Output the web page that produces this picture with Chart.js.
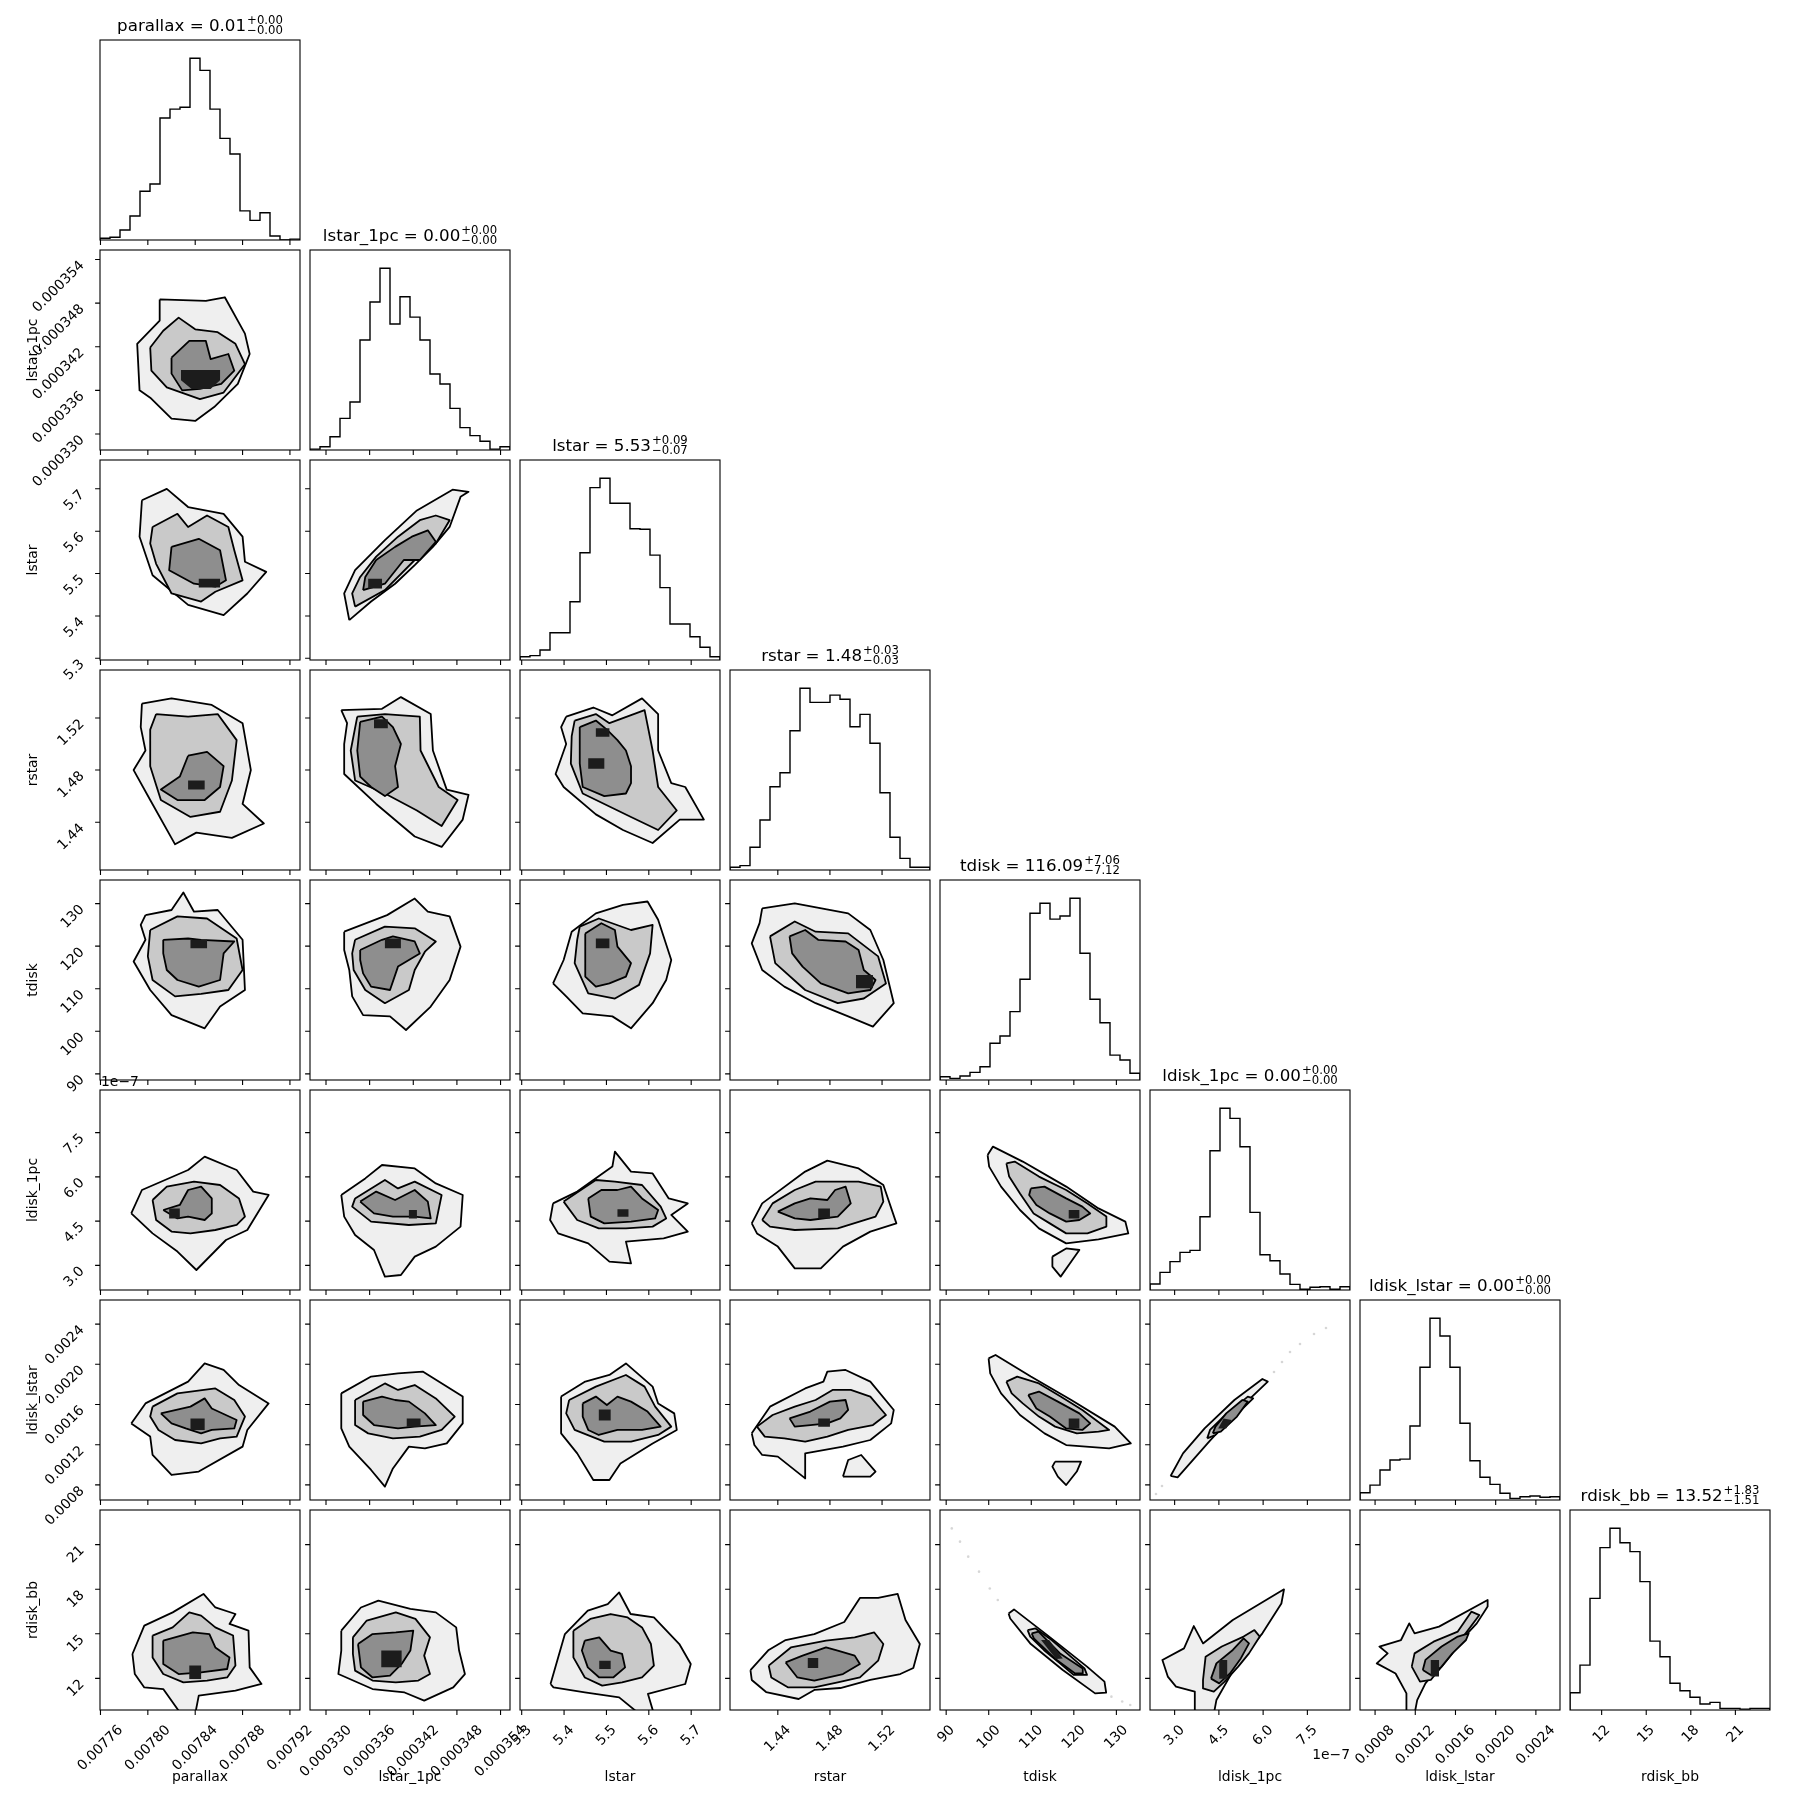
<!DOCTYPE html>
<html>
<head>
<meta charset="utf-8">
<script src="https://cdn.jsdelivr.net/npm/chart.js@4.4.1/dist/chart.umd.min.js"></script>
<style>
  body { margin: 0; background: #fff; }
  #fig { position: relative; width: 1809px; height: 1809px; overflow: hidden; }
  #fig canvas { position: absolute; }
</style>
</head>
<body>
<div id="fig"></div>
<script>
// ---- parameters and axes ----
const params = ["parallax", "lstar_1pc", "lstar", "rstar", "tdisk", "ldisk_1pc", "ldisk_lstar", "rdisk_bb"];
const axisMin = [0.0077596, 0.0003278, 5.296, 1.4033, 88.55, 2.165e-7, 0.00065, 9.87];
const axisMax = [0.0079285, 0.0003553, 5.768, 1.5568, 135.55, 8.945e-7, 0.00264, 23.33];

const ticks_parallax = [0.00776, 0.00780, 0.00784, 0.00788, 0.00792];
const ticks_lstar_1pc = [0.000330, 0.000336, 0.000342, 0.000348, 0.000354];
const ticks_lstar = [5.3, 5.4, 5.5, 5.6, 5.7];
const ticks_rstar = [1.44, 1.48, 1.52];
const ticks_tdisk = [90, 100, 110, 120, 130];
const ticks_ldisk_1pc = [3.0e-7, 4.5e-7, 6.0e-7, 7.5e-7];
const ticks_ldisk_lstar = [0.0008, 0.0012, 0.0016, 0.0020, 0.0024];
const ticks_rdisk_bb = [12, 15, 18, 21];

const tickText_parallax = ["0.00776", "0.00780", "0.00784", "0.00788", "0.00792"];
const tickText_lstar_1pc = ["0.000330", "0.000336", "0.000342", "0.000348", "0.000354"];
const tickText_lstar = ["5.3", "5.4", "5.5", "5.6", "5.7"];
const tickText_rstar = ["1.44", "1.48", "1.52"];
const tickText_tdisk = ["90", "100", "110", "120", "130"];
const tickText_ldisk_1pc = ["3.0", "4.5", "6.0", "7.5"];
const tickText_ldisk_lstar = ["0.0008", "0.0012", "0.0016", "0.0020", "0.0024"];
const tickText_rdisk_bb = ["12", "15", "18", "21"];
const offsetText = ["", "", "", "", "", "1e\u22127", "", ""];

const titleMedian = ["0.01", "0.00", "5.53", "1.48", "116.09", "0.00", "0.00", "13.52"];
const titlePlus = ["0.00", "0.00", "0.09", "0.03", "7.06", "0.00", "0.00", "1.83"];
const titleMinus = ["0.00", "0.00", "0.07", "0.03", "7.12", "0.00", "0.00", "1.51"];

// ---- 1D histograms (20 bins over the axis range, relative counts) ----
const hist_parallax = [1, 1.5, 5.5, 13.2, 26.8, 30.8, 67.1, 72, 73, 100, 93.3, 72, 55.9, 47.3, 16, 10.8, 15, 2.2, 0, 0.5];
const hist_lstar_1pc = [0.5, 1.8, 7.3, 17.4, 26.4, 60.5, 81.4, 100, 69.3, 84.3, 73.1, 60.5, 41.8, 36.3, 22.9, 12.3, 7.9, 4.8, 0.5, 1.8];
const hist_lstar = [1.8, 2.4, 5.5, 15, 15, 32, 59, 94.8, 100, 86.2, 86.2, 72.2, 71.9, 57.7, 39.8, 19.8, 19.8, 12.8, 7, 1.8];
const hist_rstar = [1.5, 2.4, 12.5, 27.5, 45.8, 53.5, 76.6, 100, 92.2, 92.2, 96.2, 93.9, 78.8, 85.6, 69.7, 42.5, 18, 6.4, 1.5, 1.5];
const hist_tdisk = [1.8, 0.9, 2.2, 4.2, 7.3, 20.2, 24.2, 37.6, 55.4, 91.7, 97.2, 88.5, 90.2, 100, 69.7, 44.4, 31.5, 13.7, 11, 3.7];
const hist_ldisk_1pc = [3.3, 9.7, 15.6, 20.7, 21.8, 40.3, 76.6, 100, 94.4, 78.8, 42.7, 19.4, 16.1, 8.8, 3.1, 0.4, 1.5, 1.8, 0.4, 1.8];
const hist_ldisk_lstar = [4, 8.2, 16.5, 22, 22.5, 40.7, 73, 100, 90.2, 73, 42.2, 21.6, 12.5, 8.6, 3.7, 0.9, 1.8, 2.2, 1.5, 1.8];
const hist_rdisk_bb = [9.5, 24.7, 61.4, 89.3, 100, 92, 87.1, 70.6, 37.9, 29.3, 14.7, 10.6, 7, 3.3, 4.2, 0.9, 0.9, 0.5, 0.9, 0.9];

// ---- 2D contours: [level, ring] ; level 0 = outer ... 3 = densest core ----
const lstar_1pc_vs_parallax = [
  [0, [[0.007810,0.0003485],[0.007849,0.0003483],[0.007865,0.0003488],[0.007882,0.0003438],[0.007886,0.0003410],[0.007876,0.0003369],[0.007856,0.0003337],[0.007840,0.0003318],[0.007820,0.0003321],[0.007802,0.0003350],[0.007793,0.0003360],[0.007791,0.0003424],[0.007810,0.0003456]]],
  [1, [[0.007802,0.0003419],[0.007813,0.0003442],[0.007826,0.0003460],[0.007840,0.0003444],[0.007859,0.0003440],[0.007874,0.0003424],[0.007882,0.0003396],[0.007864,0.0003357],[0.007844,0.0003348],[0.007816,0.0003364],[0.007803,0.0003387]]],
  [2, [[0.007820,0.0003405],[0.007835,0.0003428],[0.007849,0.0003428],[0.007853,0.0003403],[0.007868,0.0003410],[0.007873,0.0003387],[0.007862,0.0003369],[0.007844,0.0003362],[0.007829,0.0003360],[0.007820,0.0003383]]],
  [3, [[0.007828,0.0003388],[0.007861,0.0003388],[0.007861,0.0003374],[0.007853,0.0003362],[0.007837,0.0003362],[0.007828,0.0003374]]]
];
const lstar_vs_parallax = [
  [0, [[0.007795,5.673],[0.007816,5.700],[0.007834,5.657],[0.007864,5.641],[0.007880,5.587],[0.007882,5.528],[0.007900,5.504],[0.007884,5.453],[0.007864,5.402],[0.007834,5.426],[0.007804,5.496],[0.007793,5.587]]],
  [1, [[0.007804,5.610],[0.007825,5.641],[0.007834,5.610],[0.007850,5.637],[0.007868,5.610],[0.007873,5.555],[0.007880,5.484],[0.007857,5.457],[0.007845,5.434],[0.007820,5.453],[0.007807,5.523],[0.007802,5.571]]],
  [2, [[0.007820,5.563],[0.007843,5.582],[0.007861,5.555],[0.007866,5.484],[0.007857,5.469],[0.007839,5.476],[0.007818,5.508]]],
  [3, [[0.007843,5.467],[0.007861,5.467],[0.007861,5.488],[0.007843,5.488]]]
];
const lstar_vs_lstar_1pc = [
  [0, [[0.0003332,5.390],[0.0003362,5.434],[0.0003395,5.476],[0.0003422,5.520],[0.0003447,5.563],[0.0003470,5.610],[0.0003485,5.681],[0.0003496,5.693],[0.0003474,5.698],[0.0003425,5.649],[0.0003381,5.579],[0.0003340,5.508],[0.0003325,5.453]]],
  [1, [[0.0003340,5.422],[0.0003381,5.461],[0.0003422,5.532],[0.0003451,5.571],[0.0003470,5.626],[0.0003451,5.637],[0.0003429,5.626],[0.0003399,5.587],[0.0003369,5.540],[0.0003347,5.492],[0.0003336,5.453]]],
  [2, [[0.0003351,5.461],[0.0003381,5.476],[0.0003407,5.532],[0.0003429,5.532],[0.0003451,5.575],[0.0003440,5.602],[0.0003418,5.587],[0.0003395,5.563],[0.0003369,5.532],[0.0003354,5.492]]],
  [3, [[0.0003358,5.465],[0.0003377,5.465],[0.0003377,5.488],[0.0003358,5.488]]]
];
const rstar_vs_parallax = [
  [0, [[0.007795,1.531],[0.007820,1.535],[0.007854,1.530],[0.007880,1.516],[0.007887,1.480],[0.007880,1.454],[0.007898,1.439],[0.007871,1.428],[0.007841,1.432],[0.007823,1.423],[0.007802,1.457],[0.007788,1.480],[0.007798,1.495],[0.007794,1.513]]],
  [1, [[0.007807,1.523],[0.007834,1.521],[0.007859,1.523],[0.007875,1.503],[0.007871,1.472],[0.007861,1.448],[0.007836,1.444],[0.007811,1.457],[0.007802,1.483],[0.007802,1.511]]],
  [2, [[0.007834,1.491],[0.007850,1.494],[0.007864,1.483],[0.007861,1.467],[0.007848,1.457],[0.007825,1.457],[0.007811,1.465],[0.007827,1.475]]],
  [3, [[0.007834,1.472],[0.007848,1.472],[0.007848,1.465],[0.007834,1.465]]]
];
const rstar_vs_lstar_1pc = [
  [0, [[0.0003321,1.526],[0.0003377,1.527],[0.0003403,1.536],[0.0003444,1.523],[0.0003447,1.495],[0.0003466,1.465],[0.0003496,1.461],[0.0003488,1.442],[0.0003459,1.421],[0.0003422,1.429],[0.0003369,1.454],[0.0003325,1.477],[0.0003325,1.500],[0.0003329,1.516]]],
  [1, [[0.0003343,1.521],[0.0003381,1.523],[0.0003429,1.521],[0.0003430,1.495],[0.0003455,1.467],[0.0003481,1.457],[0.0003459,1.437],[0.0003425,1.449],[0.0003381,1.462],[0.0003340,1.472],[0.0003334,1.495]]],
  [2, [[0.0003347,1.517],[0.0003377,1.521],[0.0003392,1.513],[0.0003403,1.500],[0.0003395,1.483],[0.0003399,1.467],[0.0003381,1.460],[0.0003362,1.467],[0.0003347,1.475],[0.0003343,1.495]]],
  [3, [[0.0003366,1.519],[0.0003385,1.519],[0.0003385,1.512],[0.0003366,1.512]]]
];
const rstar_vs_lstar = [
  [0, [[5.405,1.521],[5.469,1.528],[5.514,1.522],[5.584,1.535],[5.622,1.523],[5.622,1.495],[5.653,1.470],[5.686,1.467],[5.730,1.442],[5.673,1.442],[5.609,1.424],[5.539,1.434],[5.475,1.446],[5.399,1.467],[5.380,1.477],[5.405,1.500],[5.393,1.513]]],
  [1, [[5.425,1.518],[5.475,1.523],[5.507,1.516],[5.590,1.526],[5.609,1.495],[5.622,1.467],[5.666,1.449],[5.622,1.434],[5.558,1.444],[5.444,1.462],[5.416,1.485],[5.418,1.506]]],
  [2, [[5.437,1.513],[5.475,1.518],[5.501,1.511],[5.526,1.503],[5.546,1.495],[5.558,1.483],[5.558,1.470],[5.546,1.462],[5.495,1.460],[5.444,1.467],[5.437,1.485],[5.437,1.503]]],
  [3, [[5.475,1.512],[5.507,1.512],[5.507,1.5055],[5.475,1.5055]]],
  [3, [[5.457,1.489],[5.495,1.489],[5.495,1.481],[5.457,1.481]]]
];
const tdisk_vs_parallax = [
  [0, [[0.007798,127.3],[0.007820,128.5],[0.007830,132.6],[0.007839,128.1],[0.007859,128.5],[0.007880,121.5],[0.007882,109.7],[0.007861,105.8],[0.007848,100.7],[0.007820,103.8],[0.007802,109.7],[0.007788,116.4],[0.007798,121.5],[0.007794,125.0]]],
  [1, [[0.007802,123.8],[0.007825,127.0],[0.007850,126.5],[0.007875,121.8],[0.007880,114.4],[0.007868,109.7],[0.007845,108.8],[0.007823,108.2],[0.007804,112.05],[0.007800,117.6]]],
  [2, [[0.007813,121.5],[0.007834,121.8],[0.007845,121.5],[0.007873,121.1],[0.007864,118.3],[0.007861,112.05],[0.007843,110.5],[0.007825,112.05],[0.007816,114.4],[0.007813,118.3]]],
  [3, [[0.007836,121.5],[0.007850,121.5],[0.007850,119.5],[0.007836,119.5]]]
];
const tdisk_vs_lstar_1pc = [
  [0, [[0.0003325,123.4],[0.0003384,127.3],[0.0003422,131.2],[0.0003440,128.1],[0.0003470,127.0],[0.0003485,119.9],[0.0003470,112.05],[0.0003444,105.8],[0.0003410,100.3],[0.0003388,103.5],[0.0003351,103.8],[0.0003336,108.2],[0.0003332,114.4],[0.0003325,119.1]]],
  [1, [[0.0003340,121.5],[0.0003381,124.6],[0.0003422,124.2],[0.0003451,121.1],[0.0003436,118.7],[0.0003422,114.4],[0.0003414,109.7],[0.0003381,106.6],[0.0003354,109.7],[0.0003338,114.4],[0.0003336,118.3]]],
  [2, [[0.0003347,119.1],[0.0003377,121.5],[0.0003392,122.3],[0.0003422,121.1],[0.0003429,118.3],[0.0003414,116.75],[0.0003399,115.2],[0.0003388,109.7],[0.0003362,110.5],[0.0003351,113.6],[0.0003347,116.75]]],
  [3, [[0.0003381,121.8],[0.0003403,121.8],[0.0003403,119.5],[0.0003381,119.5]]]
];
const tdisk_vs_lstar = [
  [0, [[5.374,111.25],[5.399,116.75],[5.418,123.4],[5.475,127.7],[5.539,129.7],[5.597,130.5],[5.622,126.2],[5.653,116.75],[5.641,112.05],[5.609,106.6],[5.558,100.7],[5.514,103.5],[5.444,104.2],[5.405,108.2]]],
  [1, [[5.437,124.6],[5.482,126.5],[5.558,123.8],[5.609,125.0],[5.603,118.3],[5.577,110.9],[5.520,107.7],[5.457,108.9],[5.425,116.0],[5.431,121.5]]],
  [2, [[5.450,123.0],[5.488,125.4],[5.520,123.8],[5.526,119.9],[5.558,116.0],[5.546,112.85],[5.507,111.25],[5.475,110.5],[5.450,112.85],[5.450,117.6]]],
  [3, [[5.475,121.8],[5.507,121.8],[5.507,119.5],[5.475,119.5]]]
];
const tdisk_vs_rstar = [
  [0, [[1.428,128.9],[1.453,130.05],[1.494,127.7],[1.511,123.8],[1.521,116.75],[1.529,106.6],[1.513,101.1],[1.494,103.5],[1.469,106.6],[1.445,110.5],[1.428,114.4],[1.420,120.65],[1.426,125.4]]],
  [1, [[1.434,122.3],[1.453,125.8],[1.469,123.4],[1.494,123.0],[1.517,117.6],[1.523,111.25],[1.506,107.7],[1.486,106.6],[1.461,109.7],[1.438,116.0]]],
  [2, [[1.449,122.3],[1.461,123.8],[1.471,121.5],[1.492,121.1],[1.502,119.1],[1.506,114.4],[1.515,112.05],[1.511,109.7],[1.494,108.9],[1.473,111.25],[1.459,115.2],[1.451,118.3]]],
  [3, [[1.500,113.2],[1.513,113.2],[1.513,110.1],[1.500,110.1]]]
];
const ldisk_1pc_vs_parallax = [
  [0, [[0.007786,4.762e-7],[0.007795,5.555e-7],[0.007834,6.233e-7],[0.007848,6.687e-7],[0.007875,6.233e-7],[0.007889,5.501e-7],[0.007902,5.386e-7],[0.007884,4.199e-7],[0.007866,3.860e-7],[0.007841,2.843e-7],[0.007825,3.467e-7],[0.007804,4.084e-7]]],
  [1, [[0.007804,5.216e-7],[0.007816,5.670e-7],[0.007839,5.840e-7],[0.007861,5.725e-7],[0.007877,5.270e-7],[0.007882,4.653e-7],[0.007875,4.369e-7],[0.007857,4.199e-7],[0.007836,4.084e-7],[0.007820,4.145e-7],[0.007807,4.538e-7]]],
  [2, [[0.007813,4.877e-7],[0.007827,5.047e-7],[0.007834,5.555e-7],[0.007845,5.670e-7],[0.007854,5.270e-7],[0.007854,4.762e-7],[0.007848,4.538e-7],[0.007834,4.653e-7],[0.007825,4.592e-7]]],
  [3, [[0.007818,4.931e-7],[0.007827,4.931e-7],[0.007827,4.592e-7],[0.007818,4.592e-7]]]
];
const ldisk_1pc_vs_lstar_1pc = [
  [0, [[0.0003321,5.386e-7],[0.0003354,5.948e-7],[0.0003377,6.403e-7],[0.0003422,6.287e-7],[0.0003451,5.779e-7],[0.0003488,5.386e-7],[0.0003485,4.314e-7],[0.0003451,3.636e-7],[0.0003422,3.297e-7],[0.0003403,2.674e-7],[0.0003381,2.619e-7],[0.0003366,3.521e-7],[0.0003340,4.030e-7],[0.0003325,4.653e-7]]],
  [1, [[0.0003340,5.270e-7],[0.0003381,5.894e-7],[0.0003399,5.609e-7],[0.0003422,5.840e-7],[0.0003459,5.386e-7],[0.0003451,4.423e-7],[0.0003414,4.369e-7],[0.0003362,4.484e-7],[0.0003336,4.992e-7]]],
  [2, [[0.0003347,5.162e-7],[0.0003369,5.501e-7],[0.0003395,5.216e-7],[0.0003422,5.555e-7],[0.0003440,5.162e-7],[0.0003444,4.592e-7],[0.0003422,4.653e-7],[0.0003392,4.653e-7],[0.0003366,4.762e-7]]],
  [3, [[0.0003414,4.877e-7],[0.0003425,4.877e-7],[0.0003425,4.592e-7],[0.0003414,4.592e-7]]]
];
const ldisk_1pc_vs_lstar = [
  [0, [[5.374,5.101e-7],[5.431,5.501e-7],[5.514,6.348e-7],[5.520,6.857e-7],[5.558,6.179e-7],[5.609,6.118e-7],[5.647,5.270e-7],[5.692,5.101e-7],[5.653,4.708e-7],[5.692,4.145e-7],[5.635,3.914e-7],[5.546,3.806e-7],[5.558,3.067e-7],[5.507,3.128e-7],[5.457,3.745e-7],[5.386,4.084e-7],[5.367,4.538e-7]]],
  [1, [[5.399,5.162e-7],[5.475,5.894e-7],[5.520,5.840e-7],[5.584,5.725e-7],[5.628,4.992e-7],[5.641,4.592e-7],[5.609,4.314e-7],[5.546,4.253e-7],[5.482,4.253e-7],[5.431,4.538e-7]]],
  [2, [[5.457,5.270e-7],[5.488,5.555e-7],[5.526,5.555e-7],[5.558,5.670e-7],[5.584,5.270e-7],[5.622,4.877e-7],[5.615,4.592e-7],[5.558,4.484e-7],[5.495,4.423e-7],[5.463,4.653e-7]]],
  [3, [[5.526,4.900e-7],[5.552,4.900e-7],[5.552,4.650e-7],[5.526,4.650e-7]]]
];
const ldisk_1pc_vs_rstar = [
  [0, [[1.420,4.423e-7],[1.428,5.101e-7],[1.461,6.179e-7],[1.478,6.552e-7],[1.502,6.287e-7],[1.521,5.725e-7],[1.531,4.423e-7],[1.511,4.145e-7],[1.490,3.636e-7],[1.473,2.897e-7],[1.453,2.897e-7],[1.440,3.636e-7],[1.424,4.084e-7]]],
  [1, [[1.428,4.538e-7],[1.436,5.101e-7],[1.453,5.555e-7],[1.469,5.840e-7],[1.502,5.840e-7],[1.519,5.670e-7],[1.521,5.162e-7],[1.515,4.653e-7],[1.486,4.253e-7],[1.453,4.199e-7],[1.434,4.314e-7]]],
  [2, [[1.440,4.823e-7],[1.453,5.101e-7],[1.465,5.270e-7],[1.478,5.216e-7],[1.484,5.555e-7],[1.492,5.670e-7],[1.496,5.101e-7],[1.486,4.653e-7],[1.465,4.538e-7],[1.453,4.592e-7]]],
  [3, [[1.471,4.931e-7],[1.480,4.931e-7],[1.480,4.592e-7],[1.471,4.592e-7]]]
];
const ldisk_1pc_vs_tdisk = [
  [0, [[99.74,6.741e-7],[101.0,7.026e-7],[108.0,6.518e-7],[118.2,5.670e-7],[125.8,4.931e-7],[132.1,4.484e-7],[132.8,4.084e-7],[125.8,3.880e-7],[118.2,3.745e-7],[111.8,4.253e-7],[107.35,4.877e-7],[102.9,5.670e-7],[100.1,6.348e-7]]],
  [0, [[114.96,3.297e-7],[118.2,3.575e-7],[121.3,3.521e-7],[119.4,3.128e-7],[116.9,2.619e-7],[114.96,2.958e-7]]],
  [1, [[104.15,6.457e-7],[106.1,6.518e-7],[111.8,6.009e-7],[118.2,5.555e-7],[123.2,5.101e-7],[127.65,4.653e-7],[127.65,4.314e-7],[123.2,4.084e-7],[118.2,4.084e-7],[114.35,4.423e-7],[110.55,4.762e-7],[107.35,5.440e-7],[104.8,6.009e-7]]],
  [2, [[109.9,5.609e-7],[113.1,5.670e-7],[118.2,5.270e-7],[122.0,4.992e-7],[123.85,4.762e-7],[121.3,4.538e-7],[118.2,4.484e-7],[114.35,4.762e-7],[111.2,5.047e-7],[109.5,5.386e-7]]],
  [3, [[118.8,4.877e-7],[121.3,4.877e-7],[121.3,4.592e-7],[118.8,4.592e-7]]]
];
const ldisk_lstar_vs_parallax = [
  [0, [[0.007786,0.001412],[0.007798,0.001611],[0.007834,0.001828],[0.007848,0.002009],[0.007864,0.001944],[0.007877,0.001794],[0.007902,0.001611],[0.007884,0.001347],[0.007880,0.001181],[0.007843,0.000933],[0.007820,0.000899],[0.007804,0.001098],[0.007802,0.001281]]],
  [1, [[0.007804,0.001579],[0.007825,0.001711],[0.007857,0.001760],[0.007873,0.001645],[0.007882,0.001480],[0.007875,0.001281],[0.007861,0.001263],[0.007845,0.001213],[0.007823,0.001247],[0.007809,0.001347],[0.007802,0.001480]]],
  [2, [[0.007811,0.001512],[0.007836,0.001579],[0.007848,0.001661],[0.007854,0.001561],[0.007875,0.001446],[0.007873,0.001362],[0.007854,0.001347],[0.007845,0.001313],[0.007832,0.001362],[0.007820,0.001412]]],
  [3, [[0.007836,0.001462],[0.007848,0.001462],[0.007848,0.001347],[0.007836,0.001347]]]
];
const ldisk_lstar_vs_lstar_1pc = [
  [0, [[0.0003321,0.001711],[0.0003362,0.001878],[0.0003399,0.001910],[0.0003433,0.001928],[0.0003488,0.001679],[0.0003488,0.001412],[0.0003466,0.001213],[0.0003436,0.001163],[0.0003414,0.001181],[0.0003392,0.000964],[0.0003381,0.000783],[0.0003362,0.000949],[0.0003332,0.001181],[0.0003321,0.001362]]],
  [1, [[0.0003340,0.001645],[0.0003381,0.001810],[0.0003399,0.001745],[0.0003422,0.001794],[0.0003451,0.001661],[0.0003477,0.001480],[0.0003459,0.001347],[0.0003429,0.001281],[0.0003392,0.001263],[0.0003358,0.001313],[0.0003340,0.001396]]],
  [2, [[0.0003351,0.001629],[0.0003377,0.001679],[0.0003395,0.001645],[0.0003414,0.001629],[0.0003436,0.001512],[0.0003451,0.001396],[0.0003422,0.001380],[0.0003399,0.001362],[0.0003366,0.001396],[0.0003351,0.001496]]],
  [3, [[0.0003411,0.001462],[0.0003430,0.001462],[0.0003430,0.001380],[0.0003411,0.001380]]]
];
const ldisk_lstar_vs_lstar = [
  [0, [[5.393,0.001679],[5.450,0.001828],[5.507,0.001894],[5.546,0.002009],[5.609,0.001778],[5.622,0.001611],[5.660,0.001512],[5.666,0.001347],[5.609,0.001213],[5.533,0.001014],[5.507,0.000849],[5.469,0.000849],[5.431,0.001114],[5.393,0.001313]]],
  [1, [[5.412,0.001645],[5.475,0.001778],[5.546,0.001894],[5.590,0.001778],[5.615,0.001579],[5.653,0.001380],[5.622,0.001297],[5.558,0.001231],[5.495,0.001231],[5.425,0.001347],[5.405,0.001512]]],
  [2, [[5.444,0.001611],[5.475,0.001679],[5.501,0.001595],[5.526,0.001679],[5.558,0.001629],[5.597,0.001530],[5.628,0.001380],[5.584,0.001347],[5.526,0.001347],[5.482,0.001297],[5.457,0.001347],[5.444,0.001480]]],
  [3, [[5.482,0.001551],[5.510,0.001551],[5.510,0.001440],[5.482,0.001440]]]
];
const ldisk_lstar_vs_rstar = [
  [0, [[1.420,0.001313],[1.434,0.001579],[1.461,0.001760],[1.475,0.001828],[1.478,0.001928],[1.492,0.001944],[1.511,0.001828],[1.529,0.001546],[1.527,0.001412],[1.511,0.001247],[1.490,0.001181],[1.461,0.001114],[1.461,0.000865],[1.440,0.001082],[1.428,0.001098],[1.422,0.001197]]],
  [0, [[1.490,0.000883],[1.494,0.001048],[1.504,0.001098],[1.515,0.000933],[1.511,0.000883]]],
  [1, [[1.424,0.001380],[1.436,0.001496],[1.453,0.001579],[1.469,0.001645],[1.482,0.001745],[1.496,0.001745],[1.511,0.001679],[1.523,0.001496],[1.513,0.001396],[1.494,0.001347],[1.478,0.001281],[1.461,0.001231],[1.445,0.001263],[1.430,0.001281]]],
  [2, [[1.449,0.001462],[1.465,0.001530],[1.480,0.001629],[1.492,0.001645],[1.494,0.001546],[1.488,0.001462],[1.478,0.001412],[1.465,0.001396],[1.453,0.001380]]],
  [3, [[1.471,0.001462],[1.480,0.001462],[1.480,0.001380],[1.471,0.001380]]]
];
const ldisk_lstar_vs_tdisk = [
  [0, [[99.97,0.002059],[101.6,0.002093],[109.9,0.001878],[119.4,0.001645],[129.6,0.001380],[133.4,0.001213],[128.3,0.001163],[118.2,0.001197],[113.1,0.001313],[107.35,0.001496],[102.9,0.001711],[100.35,0.001910]]],
  [0, [[115.6,0.001032],[121.7,0.001032],[120.7,0.000933],[118.2,0.000799],[116.25,0.000883],[114.96,0.000982]]],
  [1, [[104.15,0.001828],[106.7,0.001878],[111.8,0.001810],[116.9,0.001679],[122.0,0.001546],[128.3,0.001347],[125.8,0.001331],[120.7,0.001313],[115.6,0.001380],[111.8,0.001480],[108.0,0.001611],[105.4,0.001711]]],
  [2, [[109.3,0.001695],[111.8,0.001729],[116.25,0.001629],[121.3,0.001512],[123.85,0.001412],[122.0,0.001347],[118.2,0.001362],[114.35,0.001480],[111.2,0.001561]]],
  [3, [[118.8,0.001462],[121.3,0.001462],[121.3,0.001362],[118.8,0.001362]]]
];
const ldisk_lstar_vs_ldisk_1pc = [
  [0, [[2.863e-7,0.000889],[3.101e-7,0.000875],[4.199e-7,0.001241],[5.209e-7,0.001561],[6.158e-7,0.001828],[5.975e-7,0.001854],[5.026e-7,0.001645],[4.016e-7,0.001362],[3.284e-7,0.001114]]],
  [1, [[4.104e-7,0.001263],[4.382e-7,0.001297],[5.026e-7,0.001480],[5.663e-7,0.001661],[5.480e-7,0.001679],[4.660e-7,0.001480],[4.199e-7,0.001347]]],
  [2, [[4.294e-7,0.001313],[4.565e-7,0.001331],[5.114e-7,0.001480],[5.480e-7,0.001629],[5.297e-7,0.001645],[4.748e-7,0.001512],[4.382e-7,0.001380]]],
  [3, [[4.477e-7,0.001362],[4.748e-7,0.001362],[4.931e-7,0.001446],[4.660e-7,0.001462]]]
];
const rdisk_bb_vs_parallax = [
  [0, [[0.007787,13.64],[0.007797,15.55],[0.007821,16.44],[0.007847,17.68],[0.007857,16.77],[0.007874,16.33],[0.007869,15.66],[0.007885,15.21],[0.007886,12.74],[0.007896,11.62],[0.007874,11.18],[0.007843,10.84],[0.007840,9.6],[0.007828,9.6],[0.007813,11.28],[0.007797,11.39],[0.007789,12.29]]],
  [1, [[0.007804,14.88],[0.007821,15.43],[0.007835,16.44],[0.007845,16.22],[0.007857,15.43],[0.007872,14.88],[0.007874,12.86],[0.007867,12.06],[0.007850,11.85],[0.007830,11.73],[0.007813,12.29],[0.007804,13.41]]],
  [2, [[0.007813,14.54],[0.007838,15.09],[0.007852,14.98],[0.007857,14.08],[0.007869,13.41],[0.007867,12.63],[0.007845,12.40],[0.007826,12.29],[0.007813,12.97]]],
  [3, [[0.007835,12.86],[0.007845,12.86],[0.007845,11.96],[0.007835,11.96]]]
];
const rdisk_bb_vs_lstar_1pc = [
  [0, [[0.0003321,15.21],[0.0003348,16.77],[0.0003372,17.23],[0.0003416,16.67],[0.0003451,16.44],[0.0003479,15.43],[0.0003483,13.87],[0.0003491,12.29],[0.0003475,11.39],[0.0003435,10.50],[0.0003408,11.05],[0.0003364,11.28],[0.0003317,12.29],[0.0003321,13.87]]],
  [1, [[0.0003337,14.76],[0.0003356,15.89],[0.0003396,16.44],[0.0003423,16.0],[0.0003443,14.76],[0.0003435,13.53],[0.0003443,12.29],[0.0003427,11.85],[0.0003396,11.73],[0.0003364,11.85],[0.0003340,12.52],[0.0003337,13.64]]],
  [2, [[0.0003344,14.31],[0.0003364,14.98],[0.0003396,15.09],[0.0003420,15.21],[0.0003416,13.87],[0.0003404,12.97],[0.0003388,12.19],[0.0003364,12.06],[0.0003348,12.74]]],
  [3, [[0.0003376,13.87],[0.0003404,13.87],[0.0003404,12.74],[0.0003376,12.74]]]
];
const rdisk_bb_vs_lstar = [
  [0, [[5.368,11.62],[5.402,14.98],[5.456,16.56],[5.503,17.0],[5.530,17.78],[5.557,16.33],[5.612,16.10],[5.672,14.31],[5.699,12.97],[5.686,11.62],[5.598,10.95],[5.612,9.6],[5.578,9.6],[5.530,10.72],[5.449,11.05],[5.375,11.39]]],
  [1, [[5.422,15.21],[5.462,16.0],[5.510,16.33],[5.550,16.10],[5.584,15.43],[5.605,14.31],[5.612,12.86],[5.584,12.06],[5.537,11.73],[5.490,11.51],[5.449,12.06],[5.422,13.41]]],
  [2, [[5.449,14.54],[5.483,14.76],[5.510,13.87],[5.537,13.64],[5.544,12.74],[5.516,12.06],[5.483,12.06],[5.456,12.74],[5.442,13.87]]],
  [3, [[5.483,13.19],[5.510,13.19],[5.510,12.63],[5.483,12.63]]]
];
const rdisk_bb_vs_rstar = [
  [0, [[1.419,12.56],[1.433,13.91],[1.446,14.58],[1.468,14.98],[1.491,15.79],[1.503,17.41],[1.517,17.41],[1.532,17.68],[1.538,15.93],[1.549,14.31],[1.544,12.70],[1.534,12.29],[1.511,11.89],[1.488,11.35],[1.468,11.22],[1.456,10.61],[1.431,11.08],[1.420,11.89]]],
  [1, [[1.433,12.86],[1.450,14.08],[1.477,14.54],[1.499,14.76],[1.514,15.09],[1.521,14.31],[1.517,13.19],[1.503,12.06],[1.486,11.73],[1.468,11.39],[1.448,11.39],[1.435,12.06]]],
  [2, [[1.446,13.07],[1.459,13.53],[1.477,14.08],[1.486,13.87],[1.499,13.53],[1.503,12.97],[1.490,12.29],[1.468,11.85],[1.455,12.06]]],
  [3, [[1.463,13.37],[1.471,13.37],[1.471,12.70],[1.463,12.70]]]
];
const rdisk_bb_vs_tdisk = [
  [0, [[104.67,16.37],[105.94,16.64],[114.21,14.81],[123.1,12.79],[127.2,11.78],[127.6,11.04],[125.0,10.99],[117.4,12.56],[109.75,14.35],[105.05,16.03]]],
  [1, [[109.14,15.25],[111.0,15.36],[114.8,14.58],[119.3,13.46],[122.5,12.67],[123.1,12.23],[119.95,12.23],[116.75,13.01],[112.95,13.91],[109.75,14.81]]],
  [2, [[110.1,15.03],[111.7,15.15],[116.75,13.68],[122.1,12.67],[122.1,12.33],[120.3,12.33],[115.5,13.34],[110.6,14.69]]],
  [3, [[112.3,14.58],[114.2,14.58],[117.4,13.34],[115.8,13.30]]]
];
const rdisk_bb_vs_ldisk_1pc = [
  [0, [[3.684e-7,9.6],[3.684e-7,11.11],[3.046e-7,11.44],[2.768e-7,12.12],[2.585e-7,13.24],[3.318e-7,14.02],[3.650e-7,15.52],[3.962e-7,14.35],[4.972e-7,15.93],[6.708e-7,17.99],[6.619e-7,17.04],[5.975e-7,15.03],[5.060e-7,12.79],[4.416e-7,10.54],[4.328e-7,9.6]]],
  [1, [[3.962e-7,11.89],[4.050e-7,13.46],[4.599e-7,14.14],[5.338e-7,14.81],[5.704e-7,15.25],[5.887e-7,14.81],[5.521e-7,13.68],[5.155e-7,12.79],[4.694e-7,11.78],[4.328e-7,11.11],[3.962e-7,11.32]]],
  [2, [[4.233e-7,11.98],[4.416e-7,13.01],[4.972e-7,13.91],[5.338e-7,14.69],[5.521e-7,14.35],[5.243e-7,13.34],[4.877e-7,12.33],[4.511e-7,11.66]]],
  [3, [[4.511e-7,11.98],[4.782e-7,11.98],[4.782e-7,13.24],[4.511e-7,13.24]]]
];
const rdisk_bb_vs_ldisk_lstar = [
  [0, [[0.001112,9.6],[0.001112,10.99],[0.001004,12.33],[0.000817,13.01],[0.000925,13.68],[0.000843,14.14],[0.001058,14.58],[0.001140,15.70],[0.001193,15.03],[0.001436,15.48],[0.001920,17.27],[0.001920,16.83],[0.001812,15.70],[0.001597,14.14],[0.001436,12.79],[0.001301,11.66],[0.001219,10.54],[0.001193,9.6]]],
  [1, [[0.001165,12.79],[0.001193,13.68],[0.001382,14.47],[0.001623,15.15],[0.001758,16.49],[0.001838,16.26],[0.001677,14.81],[0.001569,13.68],[0.001462,12.79],[0.001354,11.89],[0.001247,11.78]]],
  [2, [[0.001275,12.56],[0.001301,13.24],[0.001462,14.14],[0.001623,14.81],[0.001731,15.03],[0.001705,14.58],[0.001569,13.68],[0.001462,12.79],[0.001354,12.23]]],
  [3, [[0.001354,12.12],[0.001436,12.12],[0.001436,13.24],[0.001354,13.24]]]
];

// faint samples visible outside the contours of the two tight pairs
const ldisk_lstar_vs_ldisk_1pc_points = [[2.368e-7,0.000710],[2.572e-7,0.000789],[6.369e-7,0.001924],[6.640e-7,0.002023],[6.911e-7,0.002123],[7.250e-7,0.002202],[7.725e-7,0.002302],[8.131e-7,0.002361]];
const rdisk_bb_vs_tdisk_points = [[91.32,22.09],[93.25,21.20],[95.18,20.19],[97.72,19.18],[100.25,18.05],[102.13,17.27],[128.83,10.77],[131.37,10.44],[133.25,10.21]];

// ---- lookup tables built from the arrays above ----
const tickValues = [ticks_parallax, ticks_lstar_1pc, ticks_lstar, ticks_rstar, ticks_tdisk, ticks_ldisk_1pc, ticks_ldisk_lstar, ticks_rdisk_bb];
const tickTexts = [tickText_parallax, tickText_lstar_1pc, tickText_lstar, tickText_rstar, tickText_tdisk, tickText_ldisk_1pc, tickText_ldisk_lstar, tickText_rdisk_bb];
const hists = [hist_parallax, hist_lstar_1pc, hist_lstar, hist_rstar, hist_tdisk, hist_ldisk_1pc, hist_ldisk_lstar, hist_rdisk_bb];
const contourSets = {
  "1,0": lstar_1pc_vs_parallax,
  "2,0": lstar_vs_parallax, "2,1": lstar_vs_lstar_1pc,
  "3,0": rstar_vs_parallax, "3,1": rstar_vs_lstar_1pc, "3,2": rstar_vs_lstar,
  "4,0": tdisk_vs_parallax, "4,1": tdisk_vs_lstar_1pc, "4,2": tdisk_vs_lstar, "4,3": tdisk_vs_rstar,
  "5,0": ldisk_1pc_vs_parallax, "5,1": ldisk_1pc_vs_lstar_1pc, "5,2": ldisk_1pc_vs_lstar, "5,3": ldisk_1pc_vs_rstar, "5,4": ldisk_1pc_vs_tdisk,
  "6,0": ldisk_lstar_vs_parallax, "6,1": ldisk_lstar_vs_lstar_1pc, "6,2": ldisk_lstar_vs_lstar, "6,3": ldisk_lstar_vs_rstar, "6,4": ldisk_lstar_vs_tdisk, "6,5": ldisk_lstar_vs_ldisk_1pc,
  "7,0": rdisk_bb_vs_parallax, "7,1": rdisk_bb_vs_lstar_1pc, "7,2": rdisk_bb_vs_lstar, "7,3": rdisk_bb_vs_rstar, "7,4": rdisk_bb_vs_tdisk, "7,5": rdisk_bb_vs_ldisk_1pc, "7,6": rdisk_bb_vs_ldisk_lstar
};
const samplePoints = { "6,5": ldisk_lstar_vs_ldisk_1pc_points, "7,4": rdisk_bb_vs_tdisk_points };

// ---- layout & style ----
const FONT = '"DejaVu Sans", "Liberation Sans", sans-serif';
const K = params.length;
const GRID_LEFT = 100, GRID_TOP = 40, PANEL = 200, GAP = 10;
const ML = 100, MT = 50, MR = 14, MB = 100;
const levelFill = ["#efefef", "#c9c9c9", "#8e8e8e", "#1c1c1c"];
const TICK_LEN = 4.9, TICK_FONT = 13.9;

function drawRotated(ctx, text, cx, cy) {
  ctx.save();
  ctx.translate(cx, cy);
  ctx.rotate(-Math.PI / 4);
  ctx.textAlign = "center";
  ctx.textBaseline = "middle";
  ctx.fillText(text, 0, 0);
  ctx.restore();
}

function axesPlugin(row, col) {
  const diag = row === col;
  return {
    id: "cornerAxes",
    afterDraw(chart) {
      const ctx = chart.ctx;
      const a = chart.chartArea;
      const xs = chart.scales.x, ys = chart.scales.y;
      ctx.save();
      ctx.strokeStyle = "#000";
      ctx.fillStyle = "#000";
      ctx.lineWidth = 1.1;
      ctx.strokeRect(a.left, a.top, a.right - a.left, a.bottom - a.top);

      const span = axisMax[col] - axisMin[col];
      const xt = tickValues[col].filter(v => v >= axisMin[col] - span * 1e-3 && v <= axisMax[col] + span * 1e-3);
      ctx.beginPath();
      xt.forEach(v => {
        const px = xs.getPixelForValue(v);
        ctx.moveTo(px, a.bottom);
        ctx.lineTo(px, a.bottom + TICK_LEN);
      });
      let yt = [];
      if (!diag) {
        yt = tickValues[row];
        yt.forEach(v => {
          const py = ys.getPixelForValue(v);
          ctx.moveTo(a.left, py);
          ctx.lineTo(a.left - TICK_LEN, py);
        });
      }
      ctx.stroke();

      ctx.font = TICK_FONT + "px " + FONT;
      if (row === K - 1) {
        xt.forEach(v => {
          const i = tickValues[col].indexOf(v);
          const s = tickTexts[col][i];
          const d = (ctx.measureText(s).width + TICK_FONT) / Math.SQRT2;
          drawRotated(ctx, s, xs.getPixelForValue(v), a.bottom + 13 + d / 2);
        });
        ctx.textAlign = "center";
        ctx.textBaseline = "top";
        ctx.fillText(params[col], (a.left + a.right) / 2, a.bottom + 60);
        if (offsetText[col]) {
          ctx.textAlign = "right";
          ctx.textBaseline = "middle";
          ctx.fillText(offsetText[col], a.right, a.bottom + 45);
        }
      }
      if (col === 0 && row > 0) {
        yt.forEach((v, i) => {
          const s = tickTexts[row][i];
          const d = (ctx.measureText(s).width + TICK_FONT) / Math.SQRT2;
          drawRotated(ctx, s, a.left - 13 - d / 2, ys.getPixelForValue(v) + d / 2 - 1);
        });
        ctx.save();
        ctx.translate(a.left - 60, (a.top + a.bottom) / 2);
        ctx.rotate(-Math.PI / 2);
        ctx.textAlign = "center";
        ctx.textBaseline = "bottom";
        ctx.fillText(params[row], 0, 0);
        ctx.restore();
        if (offsetText[row]) {
          ctx.textAlign = "left";
          ctx.textBaseline = "bottom";
          ctx.fillText(offsetText[row], a.left + 1, a.top - 1);
        }
      }
      if (diag) {
        const main = params[col] + " = " + titleMedian[col];
        ctx.font = "16.7px " + FONT;
        const wm = ctx.measureText(main).width;
        ctx.font = "11.7px " + FONT;
        const sup = "+" + titlePlus[col], sub = "\u2212" + titleMinus[col];
        const ws = Math.max(ctx.measureText(sup).width, ctx.measureText(sub).width);
        const x0 = (a.left + a.right) / 2 - (wm + ws + 1) / 2;
        const base = a.top - 9.5;
        ctx.textAlign = "left";
        ctx.textBaseline = "alphabetic";
        ctx.font = "16.7px " + FONT;
        ctx.fillText(main, x0, base);
        ctx.font = "11.7px " + FONT;
        ctx.fillText(sup, x0 + wm + 1, base - 7);
        ctx.fillText(sub, x0 + wm + 1, base + 3.5);
      }
      ctx.restore();
    }
  };
}

function histDataset(col) {
  const counts = hists[col];
  const n = counts.length;
  const w = (axisMax[col] - axisMin[col]) / n;
  const pts = [{ x: axisMin[col], y: 0 }];
  counts.forEach((c, i) => pts.push({ x: axisMin[col] + i * w, y: c }));
  pts.push({ x: axisMax[col], y: counts[n - 1] });
  pts.push({ x: axisMax[col], y: 0 });
  return {
    data: pts,
    borderColor: "#000",
    borderWidth: 1.4,
    fill: false,
    pointRadius: 0,
    stepped: "before",
    tension: 0
  };
}

function contourDatasets(row, col) {
  const sets = [];
  const pts = samplePoints[row + "," + col];
  if (pts) {
    sets.push({
      data: pts.map(p => ({ x: p[0], y: p[1] })),
      showLine: false,
      pointRadius: 1.3,
      pointBorderWidth: 0,
      pointBackgroundColor: "rgba(0,0,0,0.16)",
      order: 20
    });
  }
  contourSets[row + "," + col].forEach(([level, ring]) => {
    const data = ring.map(p => ({ x: p[0], y: p[1] }));
    data.push({ x: ring[0][0], y: ring[0][1] });
    sets.push({
      data: data,
      borderColor: "#000",
      borderWidth: level === 3 ? 0 : 1.8,
      borderJoinStyle: "round",
      backgroundColor: levelFill[level],
      fill: "shape",
      pointRadius: 0,
      tension: 0,
      clip: 0,
      order: 10 - level
    });
  });
  return sets;
}

function makePanel(row, col) {
  const fig = document.getElementById("fig");
  const canvas = document.createElement("canvas");
  const w = PANEL + ML + MR, h = PANEL + MT + MB;
  canvas.width = w;
  canvas.height = h;
  canvas.style.left = (GRID_LEFT + col * (PANEL + GAP) - ML) + "px";
  canvas.style.top = (GRID_TOP + row * (PANEL + GAP) - MT) + "px";
  canvas.style.width = w + "px";
  canvas.style.height = h + "px";
  fig.appendChild(canvas);

  const diag = row === col;
  const yMin = diag ? 0 : axisMin[row];
  const yMax = diag ? 1.1 * Math.max(...hists[col]) : axisMax[row];

  new Chart(canvas, {
    type: "line",
    data: { datasets: diag ? [histDataset(col)] : contourDatasets(row, col) },
    options: {
      responsive: false,
      animation: false,
      devicePixelRatio: 1,
      events: [],
      layout: { padding: { left: ML, top: MT, right: MR, bottom: MB } },
      plugins: { legend: { display: false }, tooltip: { enabled: false } },
      scales: {
        x: { type: "linear", min: axisMin[col], max: axisMax[col], display: false },
        y: { type: "linear", min: yMin, max: yMax, display: false }
      }
    },
    plugins: [axesPlugin(row, col)]
  });
}

for (let r = 0; r < K; r++) {
  for (let c = 0; c <= r; c++) {
    makePanel(r, c);
  }
}
</script>
</body>
</html>
